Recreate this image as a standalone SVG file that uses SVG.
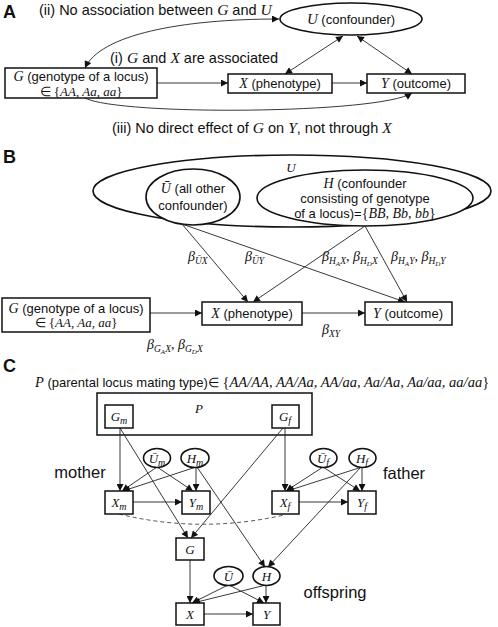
<svg xmlns="http://www.w3.org/2000/svg" width="498" height="627" viewBox="0 0 498 627">
<defs>
<marker id="ah" viewBox="0 0 10 10" refX="10" refY="5" markerWidth="8" markerHeight="7" orient="auto-start-reverse" markerUnits="userSpaceOnUse"><path d="M0,0 L10,5 L0,10 z" fill="#111"/></marker>
<style>
text{font-family:"Liberation Sans",Arial,sans-serif;font-size:13px;fill:#111}
.m{font-family:"Liberation Serif","Times New Roman",serif;font-style:italic}
.lbl{font-weight:bold;font-size:18px}
.ann{font-size:14.5px}
.big{font-size:16.5px}
.box{fill:#fff;stroke:#111;stroke-width:1.5}
.el{fill:#fff;stroke:#111;stroke-width:1.6}
.c{fill:none;stroke:#222;stroke-width:0.9;marker-end:url(#ah)}
.cb{fill:none;stroke:#222;stroke-width:0.9;marker-end:url(#ah);marker-start:url(#ah)}
.beta{font-family:"Liberation Serif","Times New Roman",serif;font-style:italic;font-size:14px}
</style>
</defs>

<!-- Panel labels -->
<text class="lbl" x="3" y="18">A</text>
<text class="lbl" x="3" y="163">B</text>
<text class="lbl" x="3" y="372">C</text>

<!-- ================= Panel A ================= -->
<g id="connectorsA">
<path class="cb" d="M85,68 C100,35 180,19 279,19"/>
<line class="c" x1="157" y1="83" x2="228" y2="83"/>
<line class="c" x1="332" y1="83" x2="367" y2="83"/>
<line class="cb" x1="343" y1="36" x2="285" y2="74"/>
<line class="cb" x1="357" y1="36" x2="412" y2="74"/>
<path class="c" d="M85,98 C120,116 380,114 412,93"/>
</g>
<g id="A-U">
<ellipse class="el" cx="351" cy="19" rx="71" ry="16"/>
<text x="351" y="24" text-anchor="middle" font-size="14"><tspan class="m" font-size="15">U</tspan> (confounder)</text>
</g>
<g id="A-G">
<rect class="box" x="5" y="68" width="152" height="30"/>
<text x="81" y="81" text-anchor="middle"><tspan class="m" font-size="14">G</tspan> (genotype of a locus)</text>
<text x="81" y="96" text-anchor="middle" class="m" font-size="14"><tspan font-style="normal">∈ {</tspan>AA, Aa, aa<tspan font-style="normal">}</tspan></text>
</g>
<g id="A-X">
<rect class="box" x="228" y="74" width="104" height="19"/>
<text x="280" y="88" text-anchor="middle"><tspan class="m" font-size="14">X</tspan> (phenotype)</text>
</g>
<g id="A-Y">
<rect class="box" x="367" y="74" width="98" height="19"/>
<text x="416" y="88" text-anchor="middle"><tspan class="m" font-size="14">Y</tspan> (outcome)</text>
</g>
<text class="ann" x="39" y="15">(ii) No association between <tspan class="m" font-size="15.5">G</tspan> and <tspan class="m" font-size="15.5">U</tspan></text>
<text class="ann" x="110" y="63">(i) <tspan class="m" font-size="15.5">G</tspan> and <tspan class="m" font-size="15.5">X</tspan> are associated</text>
<text class="ann" x="112" y="133">(iii) No direct effect of <tspan class="m" font-size="15.5">G</tspan> on <tspan class="m" font-size="15.5">Y</tspan>, not through <tspan class="m" font-size="15.5">X</tspan></text>

<!-- ================= Panel B ================= -->
<g id="B-U">
<ellipse class="el" cx="292" cy="191" rx="199" ry="36"/>
<text x="291" y="172" text-anchor="middle" class="m" font-size="17">U</text>
</g>
<g id="B-Ubar">
<ellipse class="el" cx="193" cy="197" rx="47" ry="28"/>
<text x="193" y="193" text-anchor="middle"><tspan class="m" font-size="14">Ū</tspan> (all other</text>
<text x="193" y="210" text-anchor="middle">confounder)</text>
</g>
<g id="B-H">
<ellipse class="el" cx="365" cy="198" rx="108" ry="28"/>
<text x="365" y="188" text-anchor="middle"><tspan class="m" font-size="14">H</tspan> (confounder</text>
<text x="365" y="203" text-anchor="middle">consisting of genotype</text>
<text x="365" y="218" text-anchor="middle">of a locus)=<tspan class="m" font-size="14"><tspan font-style="normal">{</tspan>BB, Bb, bb<tspan font-style="normal">}</tspan></tspan></text>
</g>
<g id="connectorsB">
<line class="c" x1="182" y1="224" x2="248" y2="302"/>
<line class="c" x1="182" y1="224" x2="405" y2="302"/>
<line class="c" x1="365" y1="226" x2="253" y2="302"/>
<line class="c" x1="365" y1="226" x2="407" y2="302"/>
<line class="c" x1="150" y1="313" x2="202" y2="313"/>
<line class="c" x1="302" y1="313" x2="365" y2="313"/>
</g>
<g id="B-G">
<rect class="box" x="2" y="298" width="148" height="34"/>
<text x="76" y="313" text-anchor="middle"><tspan class="m" font-size="14">G</tspan> (genotype of a locus)</text>
<text x="76" y="327" text-anchor="middle" class="m" font-size="14"><tspan font-style="normal">∈ {</tspan>AA, Aa, aa<tspan font-style="normal">}</tspan></text>
</g>
<g id="B-X">
<rect class="box" x="202" y="302" width="100" height="23"/>
<text x="252" y="318" text-anchor="middle"><tspan class="m" font-size="14">X</tspan> (phenotype)</text>
</g>
<g id="B-Y">
<rect class="box" x="365" y="302" width="87" height="23"/>
<text x="408" y="318" text-anchor="middle"><tspan class="m" font-size="14">Y</tspan> (outcome)</text>
</g>
<g id="B-betas">
<text class="beta" x="188" y="261">β<tspan font-size="9.5" dy="3">ŪX</tspan></text>
<text class="beta" x="245" y="261">β<tspan font-size="9.5" dy="3">ŪY</tspan></text>
<text class="beta" x="322" y="261">β<tspan font-size="9.5" dy="3">H</tspan><tspan font-size="7" dy="2">A</tspan><tspan font-size="9.5" dy="-2">X</tspan><tspan dy="-3" font-style="normal">, </tspan>β<tspan font-size="9.5" dy="3">H</tspan><tspan font-size="7" dy="2">D</tspan><tspan font-size="9.5" dy="-2">X</tspan></text>
<text class="beta" x="391" y="261">β<tspan font-size="9.5" dy="3">H</tspan><tspan font-size="7" dy="2">A</tspan><tspan font-size="9.5" dy="-2">Y</tspan><tspan dy="-3" font-style="normal">, </tspan>β<tspan font-size="9.5" dy="3">H</tspan><tspan font-size="7" dy="2">D</tspan><tspan font-size="9.5" dy="-2">Y</tspan></text>
<text class="beta" x="322" y="334">β<tspan font-size="9.5" dy="3">XY</tspan></text>
<text class="beta" x="147" y="349">β<tspan font-size="9.5" dy="3">G</tspan><tspan font-size="7" dy="2">A</tspan><tspan font-size="9.5" dy="-2">X</tspan><tspan dy="-3" font-style="normal">, </tspan>β<tspan font-size="9.5" dy="3">G</tspan><tspan font-size="7" dy="2">D</tspan><tspan font-size="9.5" dy="-2">X</tspan></text>
</g>

<!-- ================= Panel C ================= -->
<text x="35" y="387"><tspan class="m" font-size="14.5">P</tspan> (parental locus mating type)∈ <tspan class="m" font-size="14.5"><tspan font-style="normal">{</tspan>AA/AA, AA/Aa, AA/aa, Aa/Aa, Aa/aa, aa/aa<tspan font-style="normal">}</tspan></tspan></text>
<g id="C-P">
<rect class="box" x="97" y="393" width="215" height="42"/>
<text x="199" y="413" text-anchor="middle" class="m" font-size="18">P</text>
</g>
<g id="connectorsC">
<line class="c" x1="120" y1="428" x2="120" y2="491"/>
<line class="c" x1="120" y1="428" x2="188" y2="538"/>
<line class="c" x1="285" y1="428" x2="285" y2="491"/>
<line class="c" x1="283" y1="428" x2="191" y2="538"/>
<line class="c" x1="157" y1="467" x2="122" y2="491"/>
<line class="c" x1="157" y1="467" x2="193" y2="491"/>
<line class="c" x1="196" y1="467" x2="123" y2="491"/>
<line class="c" x1="196" y1="467" x2="196" y2="491"/>
<line class="c" x1="197" y1="467" x2="265" y2="567"/>
<line class="c" x1="133" y1="502" x2="182" y2="502"/>
<line class="c" x1="323" y1="467" x2="286" y2="491"/>
<line class="c" x1="323" y1="467" x2="360" y2="491"/>
<line class="c" x1="362" y1="467" x2="287" y2="491"/>
<line class="c" x1="362" y1="467" x2="362" y2="491"/>
<line class="c" x1="361" y1="467" x2="268" y2="567"/>
<line class="c" x1="299" y1="502" x2="348" y2="502"/>
<path d="M119,514 Q200,534 284,515" fill="none" stroke="#555" stroke-width="1" stroke-dasharray="4,3"/>
<line class="c" x1="190" y1="560" x2="190" y2="603"/>
<line class="c" x1="228" y1="585" x2="192" y2="603"/>
<line class="c" x1="229" y1="585" x2="264" y2="603"/>
<line class="c" x1="266" y1="585" x2="193" y2="603"/>
<line class="c" x1="266" y1="585" x2="266" y2="603"/>
<line class="c" x1="204" y1="614" x2="253" y2="614"/>
</g>
<g id="C-Gm">
<rect class="box" x="105" y="405" width="28" height="23"/>
<text x="119" y="421" text-anchor="middle" class="m" font-size="14">G<tspan font-size="10" dy="3">m</tspan></text>
</g>
<g id="C-Gf">
<rect class="box" x="272" y="405" width="27" height="23"/>
<text x="285" y="421" text-anchor="middle" class="m" font-size="14">G<tspan font-size="10" dy="3">f</tspan></text>
</g>
<g id="C-Um">
<ellipse class="el" cx="157" cy="458" rx="13.5" ry="9.5"/>
<text x="157" y="463" text-anchor="middle" class="m" font-size="14">Ū<tspan font-size="10" dy="3">m</tspan></text>
</g>
<g id="C-Hm">
<ellipse class="el" cx="195" cy="458" rx="14" ry="9.5"/>
<text x="195" y="463" text-anchor="middle" class="m" font-size="14">H<tspan font-size="10" dy="3">m</tspan></text>
</g>
<g id="C-Uf">
<ellipse class="el" cx="323.5" cy="458" rx="13.5" ry="9.5"/>
<text x="323" y="463" text-anchor="middle" class="m" font-size="14">Ū<tspan font-size="10" dy="3">f</tspan></text>
</g>
<g id="C-Hf">
<ellipse class="el" cx="362.5" cy="458" rx="13.5" ry="9.5"/>
<text x="362" y="463" text-anchor="middle" class="m" font-size="14">H<tspan font-size="10" dy="3">f</tspan></text>
</g>
<g id="C-Xm">
<rect class="box" x="105" y="491" width="28" height="23"/>
<text x="119" y="507" text-anchor="middle" class="m" font-size="14">X<tspan font-size="10" dy="3">m</tspan></text>
</g>
<g id="C-Ym">
<rect class="box" x="182" y="491" width="28" height="23"/>
<text x="196" y="507" text-anchor="middle" class="m" font-size="14">Y<tspan font-size="10" dy="3">m</tspan></text>
</g>
<g id="C-Xf">
<rect class="box" x="272" y="491" width="27" height="23"/>
<text x="285" y="507" text-anchor="middle" class="m" font-size="14">X<tspan font-size="10" dy="3">f</tspan></text>
</g>
<g id="C-Yf">
<rect class="box" x="348" y="491" width="28" height="23"/>
<text x="362" y="507" text-anchor="middle" class="m" font-size="14">Y<tspan font-size="10" dy="3">f</tspan></text>
</g>
<g id="C-G">
<rect class="box" x="176" y="538" width="28" height="22"/>
<text x="190" y="554" text-anchor="middle" class="m" font-size="14">G</text>
</g>
<g id="C-Ubar">
<ellipse class="el" cx="228.5" cy="576" rx="14.5" ry="9.5"/>
<text x="228.5" y="581" text-anchor="middle" class="m" font-size="14">Ū</text>
</g>
<g id="C-H">
<ellipse class="el" cx="266.5" cy="576" rx="13.5" ry="9.5"/>
<text x="266.5" y="581" text-anchor="middle" class="m" font-size="14">H</text>
</g>
<g id="C-X">
<rect class="box" x="176" y="603" width="28" height="22"/>
<text x="190" y="619" text-anchor="middle" class="m" font-size="14">X</text>
</g>
<g id="C-Y">
<rect class="box" x="253" y="603" width="27" height="22"/>
<text x="266.5" y="619" text-anchor="middle" class="m" font-size="14">Y</text>
</g>
<text class="big" x="80" y="478" text-anchor="middle">mother</text>
<text class="big" x="404" y="479" text-anchor="middle">father</text>
<text class="big" x="335" y="598" text-anchor="middle">offspring</text>
</svg>
